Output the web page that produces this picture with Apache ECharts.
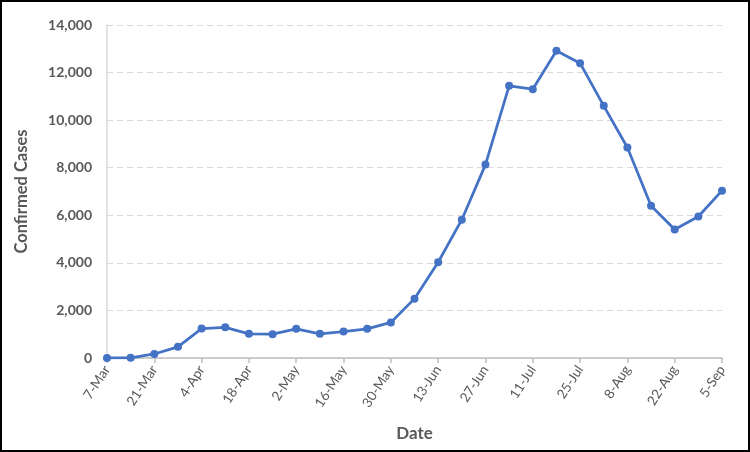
<!DOCTYPE html>
<html>
<head>
<meta charset="utf-8">
<script src="https://cdn.jsdelivr.net/npm/echarts@6/dist/echarts.min.js"></script>
<style>
html,body{margin:0;padding:0;background:#fff;}
#frame{position:absolute;left:0;top:0;width:746px;height:448px;border:2px solid #000;}
#chart{width:746px;height:448px;}
</style>
</head>
<body>
<div id="frame"><div id="chart"></div></div>
<script>
var categories = ['7-Mar','14-Mar','21-Mar','28-Mar','4-Apr','11-Apr','18-Apr','25-Apr','2-May','9-May','16-May','23-May','30-May','6-Jun','13-Jun','20-Jun','27-Jun','4-Jul','11-Jul','18-Jul','25-Jul','1-Aug','8-Aug','15-Aug','22-Aug','29-Aug','5-Sep'];
var confirmedCases = [5,8,170,470,1235,1290,1015,1000,1225,1015,1110,1225,1495,2495,4025,5815,8130,11445,11300,12915,12395,10600,8850,6400,5405,5950,7035];
var yTicks = [0,2000,4000,6000,8000,10000,12000,14000];

var chart = echarts.init(document.getElementById('chart'));
var fontFam = 'Lato, "Open Sans", sans-serif';
chart.setOption({
  animation:false,
  grid:{left:105,right:26,top:23,bottom:92},
  xAxis:{
    type:'category',
    data:categories,
    boundaryGap:false,
    name:'Date',
    nameLocation:'middle',
    nameGap:67,
    nameTextStyle:{fontFamily:fontFam,fontWeight:'bold',fontSize:17,color:'#595959'},
    axisLine:{lineStyle:{color:'#bfbfbf',width:1.5}},
    axisTick:{interval:1,length:5,lineStyle:{color:'#bfbfbf',width:1.5}},
    axisLabel:{interval:1,rotate:57,fontFamily:fontFam,fontSize:13.5,color:'#595959',margin:9},
    splitLine:{show:false}
  },
  yAxis:{
    type:'value',
    min:yTicks[0],max:yTicks[yTicks.length-1],interval:2000,
    name:'Confirmed Cases',
    nameLocation:'middle',
    nameGap:77,
    nameTextStyle:{fontFamily:fontFam,fontWeight:'bold',fontSize:16.5,color:'#595959'},
    axisLine:{show:true,lineStyle:{color:'#d9d9d9',width:1.5}},
    axisTick:{show:false},
    axisLabel:{fontFamily:fontFam,fontWeight:'bold',fontSize:14,color:'#595959',margin:15,
      formatter:function(v){return v.toLocaleString('en-US');}},
    splitLine:{lineStyle:{color:'#d9d9d9',type:[6,4],width:1.2}}
  },
  series:[{
    type:'line',
    data:confirmedCases,
    symbol:'circle',
    symbolSize:8,
    lineStyle:{color:'#4472C4',width:2.75},
    itemStyle:{color:'#4472C4'}
  }]
});
</script>
</body>
</html>
